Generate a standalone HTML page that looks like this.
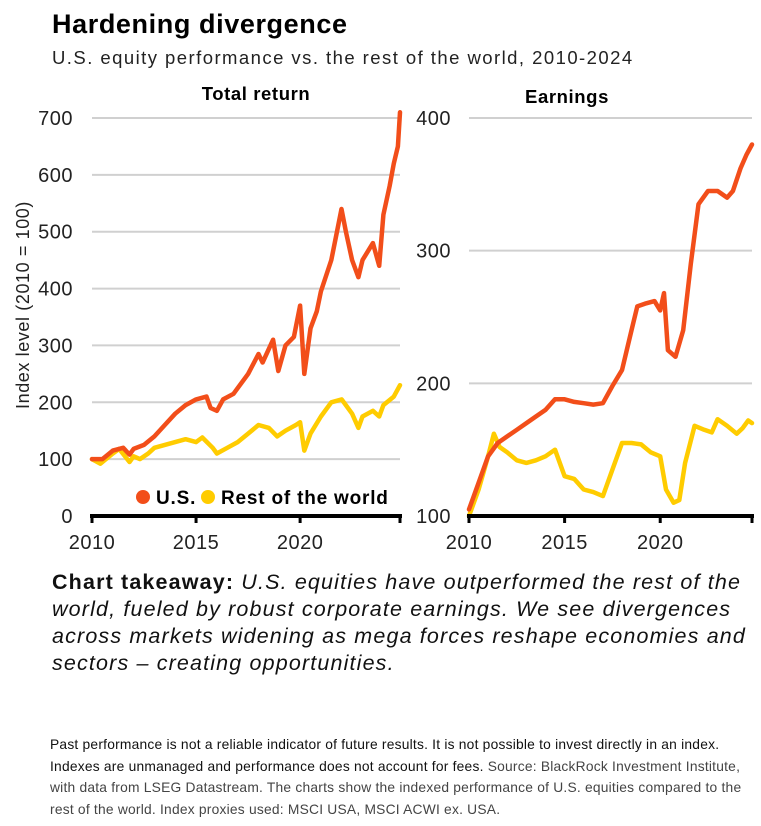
<!DOCTYPE html>
<html><head><meta charset="utf-8">
<style>
body{margin:0;background:#fff;width:761px;height:826px;overflow:hidden;font-family:"Liberation Sans",sans-serif;color:#000;position:relative}
.abs{position:absolute;white-space:nowrap}
</style></head>
<body>
<div class="abs" style="left:52px;top:9px;font-size:27px;font-weight:bold;letter-spacing:0.6px">Hardening divergence</div>
<div class="abs" style="left:52px;top:47px;font-size:18.5px;color:#222;letter-spacing:1.45px">U.S. equity performance vs. the rest of the world, 2010-2024</div>
<svg id="chart" width="761" height="570" style="position:absolute;left:0;top:0" font-family="Liberation Sans, sans-serif"></svg>
<div class="abs" style="left:52px;top:569px;font-size:21.5px;line-height:27px;font-style:italic;color:#111;letter-spacing:1.15px">
<span style="font-weight:bold;font-style:normal">Chart takeaway:</span> U.S. equities have outperformed the rest of the<br>world, fueled by robust corporate earnings. We see divergences<br>across markets widening as mega forces reshape economies and<br>sectors – creating opportunities.</div>
<div class="abs" style="left:50px;top:734px;font-size:13.8px;line-height:21.5px;color:#111;letter-spacing:0.22px">
Past performance is not a reliable indicator of future results. It is not possible to invest directly in an index.<br>Indexes are unmanaged and performance does not account for fees. <span style="color:#444">Source: BlackRock Investment Institute,</span><br><span style="color:#444">with data from LSEG Datastream. The charts show the indexed performance of U.S. equities compared to the</span><br><span style="color:#444">rest of the world. Index proxies used: MSCI USA, MSCI ACWI ex. USA.</span></div>
<script>
const trYears=[2010,2010.5,2011,2011.5,2011.8,2012,2012.5,2013,2013.5,2014,2014.5,2015,2015.5,2015.7,2016,2016.3,2016.8,2017,2017.5,2018,2018.2,2018.7,2018.95,2019.3,2019.7,2020.0,2020.2,2020.5,2020.8,2021,2021.5,2021.99,2022.2,2022.5,2022.8,2023,2023.5,2023.8,2024,2024.3,2024.5,2024.7,2024.8];
const trUS=[100,100,115,120,108,118,125,140,160,180,195,205,210,190,185,205,215,225,250,285,270,310,255,300,315,370,250,330,360,395,450,540,500,450,420,450,480,440,530,580,620,650,710];
const trRowYears=[2010,2010.4,2011,2011.3,2011.8,2012,2012.3,2012.7,2013,2013.5,2014,2014.5,2015,2015.3,2015.8,2016,2016.5,2017,2017.5,2018,2018.5,2018.9,2019.3,2019.8,2020.0,2020.2,2020.5,2021,2021.5,2022,2022.5,2022.8,2023,2023.5,2023.8,2024,2024.5,2024.8];
const trRow=[100,92,110,118,95,105,100,110,120,125,130,135,130,138,120,110,120,130,145,160,155,140,150,160,165,115,145,175,200,205,180,155,175,185,175,195,210,230];
const erYears=[2010,2010.5,2011,2011.5,2012,2012.5,2013,2013.5,2014,2014.5,2015,2015.5,2016,2016.5,2017,2017.5,2018,2018.5,2018.8,2019.2,2019.7,2020.0,2020.2,2020.4,2020.8,2021.2,2021.6,2022,2022.5,2023,2023.5,2023.8,2024.2,2024.5,2024.8];
const erUS=[105,125,145,155,160,165,170,175,180,188,188,186,185,184,185,198,210,240,258,260,262,255,268,225,220,240,290,335,345,345,340,345,362,372,380];
const erRowYears=[2010,2010.5,2011,2011.3,2011.6,2012,2012.5,2013,2013.5,2014,2014.5,2015,2015.5,2016,2016.5,2017,2017.5,2018,2018.5,2019,2019.5,2020,2020.3,2020.7,2021,2021.3,2021.8,2022.3,2022.7,2023,2023.5,2024,2024.3,2024.6,2024.8];
const erRow=[100,120,145,162,152,148,142,140,142,145,150,130,128,120,118,115,135,155,155,154,148,145,120,110,112,140,168,165,163,173,168,162,166,172,170];
const trTicks=[0,100,200,300,400,500,600,700];
const erTicks=[100,200,300,400];
const xTicks=[2010,2015,2020];
const NS="http://www.w3.org/2000/svg";
const svg=document.getElementById('chart');
function el(t,a,p){const e=document.createElementNS(NS,t);for(const k in a)e.setAttribute(k,a[k]);(p||svg).appendChild(e);return e;}
function txt(s,a){const e=el('text',a);e.textContent=s;return e;}
const ORANGE="#f24e1a",YELLOW="#ffcc00";
function panel(name,x0,x1,yLo,yHi,pyLo,pyHi,ticks,labelX,anchor,series){
  const xs=y=>x0+(y-2010)/(2024.8-2010)*(x1-x0);
  const ys=v=>pyLo+(v-yLo)/(yHi-yLo)*(pyHi-pyLo);
  ticks.forEach(t=>{
    if(t!==yLo){const g=el('line',{x1:x0,x2:x1,y1:ys(t),y2:ys(t),stroke:'#d0d0d0','stroke-width':2});
    
    }
    const l=txt(String(t),{x:labelX,y:ys(t)+7,'font-size':20,'text-anchor':anchor,fill:'#222','letter-spacing':0.5});
    
    
  });
  series.forEach(s=>{
    const d=s.xs.map((y,i)=>(i?'L':'M')+xs(y).toFixed(1)+','+ys(s.v[i]).toFixed(1)).join('');
    const p=el('path',{d:d,fill:'none',stroke:s.c,'stroke-width':4.5,'stroke-linejoin':'round','stroke-linecap':'round'});
    
    
  });
  const ax=el('line',{x1:x0-2,x2:x1+2,y1:pyLo,y2:pyLo,stroke:'#000','stroke-width':4});
  
  
  xTicks.concat([2024.8]).forEach(t=>{
    el('line',{x1:xs(t),x2:xs(t),y1:pyLo,y2:pyLo+7,stroke:'#000','stroke-width':3});
  });
  xTicks.forEach(t=>{
    const l=txt(String(t),{x:xs(t),y:pyLo+33,'font-size':20,'text-anchor':'middle',fill:'#222','letter-spacing':0.5});
    
    
  });
}
panel('total-return',92,400,0,700,516,118,trTicks,73,'end',[{n:'row',xs:trRowYears,v:trRow,c:YELLOW},{n:'us',xs:trYears,v:trUS,c:ORANGE}]);
panel('earnings',469,752,100,400,516,118,erTicks,451,'end',[{n:'row',xs:erRowYears,v:erRow,c:YELLOW},{n:'us',xs:erYears,v:erUS,c:ORANGE}]);
let t=txt('Total return',{x:256,y:100,'font-size':18.5,'font-weight':'bold','text-anchor':'middle','letter-spacing':0.6});


t=txt('Earnings',{x:567,y:103,'font-size':18.5,'font-weight':'bold','text-anchor':'middle','letter-spacing':0.6});


t=txt('Index level (2010 = 100)',{x:0,y:0,'font-size':18,'text-anchor':'middle',fill:'#222','letter-spacing':0.6,transform:'translate(29,305) rotate(-90)'});


let c=el('circle',{cx:143,cy:497,r:7,fill:ORANGE});


t=txt('U.S.',{x:156,y:504,'font-size':19,'font-weight':'bold','letter-spacing':0.8});


c=el('circle',{cx:208,cy:497,r:7,fill:YELLOW});


t=txt('Rest of the world',{x:221,y:504,'font-size':19,'font-weight':'bold','letter-spacing':0.8});


</script>
</body></html>
